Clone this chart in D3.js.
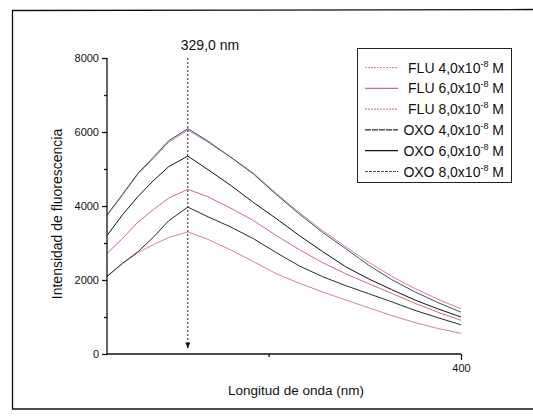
<!DOCTYPE html>
<html>
<head>
<meta charset="utf-8">
<script src="https://cdn.jsdelivr.net/npm/d3@7/dist/d3.min.js"></script>
<style>
  html, body { margin: 0; padding: 0; background: #fff; }
  svg { display: block; font-family: "Liberation Sans", Arial, sans-serif; }
</style>
</head>
<body>
<svg id="chart" width="533" height="420"></svg>
<script>
// ---- data ----
const wavelengths = [308, 312, 316, 320, 324, 329, 334, 340, 346, 352, 358, 364, 370, 376, 382, 388, 394, 400];
const flu4 = [2110, 2440, 2740, 2950, 3150, 3300, 3110, 2820, 2500, 2170, 1910, 1680, 1460, 1250, 1040, 850, 690, 560];
const flu6 = [2720, 3120, 3560, 3900, 4210, 4450, 4260, 3950, 3610, 3200, 2820, 2470, 2170, 1900, 1640, 1370, 1130, 910];
const flu8 = [3740, 4290, 4850, 5280, 5720, 6050, 5740, 5330, 4890, 4340, 3820, 3340, 2900, 2480, 2100, 1770, 1480, 1220];
const oxo4 = [2090, 2450, 2760, 3150, 3600, 3970, 3720, 3440, 3120, 2740, 2380, 2090, 1850, 1630, 1410, 1180, 980, 790];
const oxo6 = [3200, 3760, 4250, 4680, 5060, 5350, 5000, 4570, 4100, 3660, 3200, 2770, 2360, 2030, 1740, 1460, 1220, 1000];
const oxo8 = [3760, 4310, 4880, 5310, 5760, 6090, 5770, 5330, 4870, 4310, 3780, 3290, 2850, 2400, 2010, 1680, 1390, 1130];
const seriesNames = ["FLU 4,0x10", "FLU 6,0x10", "FLU 8,0x10", "OXO 4,0x10", "OXO 6,0x10", "OXO 8,0x10"];
const seriesValues = [flu4, flu6, flu8, oxo4, oxo6, oxo8];
const seriesColors = ["#d3848f", "#c96f7e", "#d3848f", "#2b2b2b", "#111111", "#34507a"];
const legendDash = ["2,1", null, "2,1", "6,1", null, "3,1"];
const yMajorTicks = [0, 2000, 4000, 6000, 8000];
const yMinorTicks = [1000, 3000, 5000, 7000];
const xMajorTicks = [400];
const xMinorTicks = [350];
const peakWavelength = 329.0;
const peakLabel = "329,0 nm";
const xTitle = "Longitud de onda (nm)";
const yTitle = "Intensidad de fluorescencia";

// ---- layout ----
const svg = d3.select("#chart");
const x = d3.scaleLinear().domain([308, 400]).range([107, 461]);
const y = d3.scaleLinear().domain([0, 8000]).range([354, 58]);

// outer frame
const frame = svg.append("g").attr("stroke", "#111").attr("stroke-width", 1.3).attr("fill", "none");
frame.append("path").attr("d", "M533,9.5 L12.5,10.5 L12.5,409 L533,409");

// curves
const line = d3.line().x((d, i) => x(wavelengths[i])).y(d => y(d));
seriesValues.forEach((vals, k) => {
  svg.append("path")
    .datum(vals)
    .attr("d", line)
    .attr("fill", "none")
    .attr("stroke", seriesColors[k])
    .attr("stroke-width", 1)
    .attr("stroke-linejoin", "round");
});

// axes
const yAxis = d3.axisLeft(y).tickValues(yMajorTicks).tickSize(5).tickPadding(3).tickFormat(d3.format("d"));
const gy = svg.append("g").attr("transform", "translate(107,0)").call(yAxis);
gy.select(".domain").attr("d", `M0,${y(8000)}V${y(0)}`);
const gyMinor = svg.append("g").attr("transform", "translate(107,0)")
  .call(d3.axisLeft(y).tickValues(yMinorTicks).tickSize(3).tickFormat(""));
gyMinor.select(".domain").remove();

const xAxis = d3.axisBottom(x).tickValues(xMajorTicks).tickSize(6).tickPadding(4).tickFormat(d3.format("d"));
const gx = svg.append("g").attr("transform", "translate(0,354)").call(xAxis);
gx.select(".domain").attr("d", `M107,0H${x(400)}`);
const gxMinor = svg.append("g").attr("transform", "translate(0,354)")
  .call(d3.axisBottom(x).tickValues(xMinorTicks).tickSize(3).tickFormat(""));
gxMinor.select(".domain").remove();

[gy, gyMinor, gx, gxMinor].forEach(g => {
  g.selectAll(".domain, line").attr("stroke", "#111").attr("stroke-width", 1.3);
  g.selectAll("text").attr("font-size", 11).attr("fill", "#111")
    .attr("font-family", "'Liberation Sans', Arial, sans-serif");
});

// axis titles
svg.append("text").attr("x", 296).attr("y", 395).attr("text-anchor", "middle")
  .attr("font-size", 13.5).attr("fill", "#111").text(xTitle);
svg.append("text").attr("transform", "translate(62,214) rotate(-90)").attr("text-anchor", "middle")
  .attr("font-size", 14).attr("fill", "#111").text(yTitle);

// peak annotation
svg.append("line")
  .attr("x1", x(peakWavelength)).attr("x2", x(peakWavelength))
  .attr("y1", y(8000)).attr("y2", y(150))
  .attr("stroke", "#222").attr("stroke-width", 1).attr("stroke-dasharray", "2,2");
svg.append("path")
  .attr("d", `M${x(peakWavelength) - 2.5},${y(150) - 6} L${x(peakWavelength) + 2.5},${y(150) - 6} L${x(peakWavelength)},${y(150)} Z`)
  .attr("fill", "#111");
svg.append("text").attr("x", x(peakWavelength) - 7).attr("y", 50)
  .attr("font-size", 14).attr("fill", "#111").text(peakLabel);

// legend
const lg = svg.append("g");
lg.append("rect").attr("x", 357.5).attr("y", 48.5).attr("width", 154).attr("height", 134)
  .attr("fill", "#fff").attr("stroke", "#222").attr("stroke-width", 1);
seriesNames.forEach((name, k) => {
  const cy = 67.5 + k * 20.8;
  lg.append("line").attr("x1", 365).attr("x2", 398).attr("y1", cy).attr("y2", cy)
    .attr("stroke", seriesColors[k]).attr("stroke-width", 1.2)
    .attr("stroke-dasharray", legendDash[k]);
  const t = lg.append("text").attr("x", 504).attr("y", cy + 5).attr("text-anchor", "end")
    .attr("font-size", 14).attr("fill", "#111");
  t.append("tspan").text(name);
  t.append("tspan").attr("dy", -6).attr("font-size", 9).text("-8");
  t.append("tspan").attr("dy", 6).text(" M");
});
</script>
</body>
</html>
